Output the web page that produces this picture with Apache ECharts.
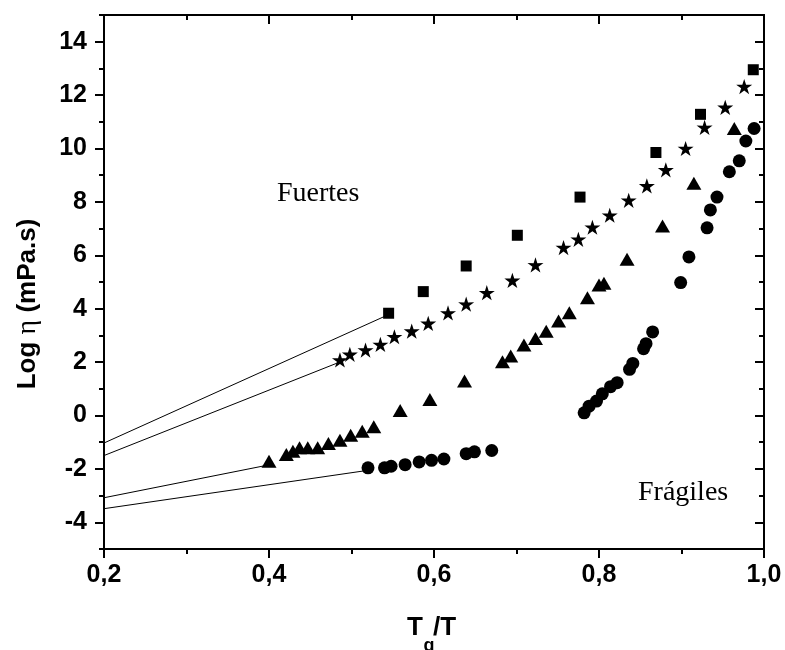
<!DOCTYPE html>
<html>
<head>
<meta charset="utf-8">
<script src="https://cdn.jsdelivr.net/npm/echarts@6/dist/echarts.min.js"></script>
<style>
  html, body { margin: 0; padding: 0; background: #fff; }
  #chart { width: 785px; height: 650px; }
</style>
</head>
<body>
<div id="chart"></div>
<script>
// Log viscosity versus Tg/T for four glass-forming liquids
const squareX = [0.545, 0.587, 0.639, 0.701, 0.777, 0.869, 0.923, 0.987];
const squareY = [3.83, 4.64, 5.60, 6.75, 8.18, 9.85, 11.28, 12.95];

const starX = [0.486, 0.498, 0.517, 0.535, 0.552, 0.573, 0.593, 0.617, 0.639, 0.664, 0.695, 0.723,
               0.757, 0.775, 0.792, 0.813, 0.836, 0.858, 0.881, 0.905, 0.928, 0.953, 0.976];
const starY = [2.08, 2.29, 2.45, 2.66, 2.95, 3.16, 3.45, 3.84, 4.17, 4.60, 5.06, 5.64,
               6.29, 6.60, 7.05, 7.50, 8.06, 8.60, 9.20, 10.0, 10.79, 11.54, 12.32];

const triX = [0.400, 0.421, 0.429, 0.437, 0.447, 0.459, 0.472, 0.486, 0.499, 0.513, 0.527, 0.559,
              0.595, 0.637, 0.683, 0.693, 0.709, 0.723, 0.736, 0.751, 0.764, 0.786, 0.800, 0.806,
              0.834, 0.877, 0.915, 0.964];
const triY = [-1.71, -1.46, -1.34, -1.21, -1.21, -1.21, -1.05, -0.93, -0.74, -0.59, -0.42, 0.19,
              0.60, 1.29, 2.01, 2.23, 2.64, 2.88, 3.16, 3.54, 3.85, 4.41, 4.89, 4.95,
              5.85, 7.10, 8.70, 10.75];

const circX = [0.520, 0.540, 0.548, 0.565, 0.582, 0.597, 0.612, 0.639, 0.649, 0.670,
               0.782, 0.788, 0.797, 0.804, 0.814, 0.822, 0.837, 0.841, 0.854, 0.857, 0.865,
               0.899, 0.909, 0.931, 0.935, 0.943, 0.958, 0.970, 0.978, 0.988];
const circY = [-1.96, -1.96, -1.90, -1.84, -1.74, -1.68, -1.63, -1.43, -1.36, -1.31,
               0.10, 0.35, 0.54, 0.81, 1.08, 1.23, 1.73, 1.95, 2.50, 2.69, 3.13,
               4.98, 5.94, 7.03, 7.70, 8.18, 9.13, 9.54, 10.28, 10.75];

// Extrapolation segments: [x0, y0, x1, y1]
const extrapLines = [
  [0.2, -1.03, 0.545, 3.78],
  [0.2, -1.50, 0.484, 1.98],
  [0.2, -3.08, 0.395, -1.88],
  [0.2, -3.49, 0.514, -2.08]
];

const xTicks = [0.2, 0.4, 0.6, 0.8, 1.0];
const yMajor = [-4, -2, 0, 2, 4, 6, 8, 10, 12, 14];
const yMinor = [-5, -3, -1, 1, 3, 5, 7, 9, 11, 13, 15];

const pairs = (xs, ys) => xs.map((x, i) => [x, ys[i]]);

const STAR = 'path://M100,0L122.3,69.3L195.1,69.1L136.1,111.7L158.8,180.9L100,138L41.2,180.9L63.9,111.7L4.9,69.1L77.7,69.3Z';
const SANS = '"Liberation Sans", Arial, sans-serif';
const SERIF = '"Liberation Serif", "Times New Roman", serif';

const lineStyle = { color: '#000', width: 2 };
const markStyle = { color: '#000', opacity: 1 };

function xAxisDef(pos) {
  const bottom = pos === 'bottom';
  return {
    type: 'value', position: pos, min: xTicks[0], max: xTicks[xTicks.length - 1], interval: 0.2,
    axisLine: { show: true, onZero: false, lineStyle },
    axisTick: { show: true, inside: !bottom, length: 9, lineStyle },
    minorTick: { show: true, splitNumber: 2, length: 5, lineStyle: { color: '#000', width: 2 } },
    splitLine: { show: false },
    axisLabel: {
      show: bottom, margin: 14, color: '#000', fontFamily: SANS, fontWeight: 'bold', fontSize: 25,
      formatter: v => v.toFixed(1).replace('.', ',')
    }
  };
}

function yAxisDef(pos, values, len, labels) {
  const left = pos === 'left';
  return {
    type: 'value', position: pos, min: -5, max: 15, interval: 1,
    axisLine: { show: true, onZero: false, lineStyle },
    axisTick: { show: true, inside: !left, length: len, customValues: values, lineStyle },
    splitLine: { show: false },
    axisLabel: {
      show: labels, customValues: values, margin: 17, color: '#000',
      fontFamily: SANS, fontWeight: 'bold', fontSize: 25
    }
  };
}

const chart = echarts.init(document.getElementById('chart'), null, { renderer: 'canvas' });

const series = [];
extrapLines.forEach(l => {
  series.push({
    type: 'line', xAxisIndex: 0, yAxisIndex: 0, data: [[l[0], l[1]], [l[2], l[3]]],
    showSymbol: false, symbol: 'none', lineStyle: { color: '#000', width: 1 }, silent: true, z: 1
  });
});
series.push(
  { type: 'scatter', data: pairs(squareX, squareY), symbol: 'rect', symbolSize: 11,
    itemStyle: markStyle, z: 3 },
  { type: 'scatter', data: pairs(starX, starY), symbol: STAR, symbolSize: 16, symbolKeepAspect: true,
    itemStyle: markStyle, z: 3 },
  { type: 'scatter', data: pairs(triX, triY), symbol: 'triangle', symbolSize: [15, 13],
    itemStyle: markStyle, z: 3 },
  { type: 'scatter', data: pairs(circX, circY), symbol: 'circle', symbolSize: 13,
    itemStyle: markStyle, z: 3 }
);

chart.setOption({
  animation: false,
  backgroundColor: '#fff',
  grid: { left: 104, top: 15, width: 660, height: 534, containLabel: false },
  xAxis: [xAxisDef('bottom'), xAxisDef('top')],
  yAxis: [
    yAxisDef('left', yMajor, 9, true),
    yAxisDef('left', yMinor, 5, false),
    yAxisDef('right', yMajor, 9, false),
    yAxisDef('right', yMinor, 5, false)
  ],
  series,
  graphic: [
    {
      type: 'text', x: 28, y: 304, rotation: Math.PI / 2,
      style: {
        text: '{a|Log }{b|η}{a| (mPa.s)}',
        align: 'center', verticalAlign: 'middle',
        rich: {
          a: { fontFamily: SANS, fontWeight: 'bold', fontSize: 26, fill: '#000' },
          b: { fontFamily: SERIF, fontWeight: 'normal', fontSize: 28, fill: '#000' }
        }
      }
    },
    { type: 'text', x: 423, y: 628,
      style: { text: 'T', align: 'right', verticalAlign: 'middle', fontFamily: SANS, fontWeight: 'bold', fontSize: 26, fill: '#000' } },
    { type: 'text', x: 429, y: 646,
      style: { text: 'g', align: 'center', verticalAlign: 'middle', fontFamily: SANS, fontWeight: 'bold', fontSize: 18, fill: '#000' } },
    { type: 'text', x: 433, y: 628,
      style: { text: '/T', align: 'left', verticalAlign: 'middle', fontFamily: SANS, fontWeight: 'bold', fontSize: 26, fill: '#000' } },
    { type: 'text', x: 277, y: 194,
      style: { text: 'Fuertes', align: 'left', verticalAlign: 'middle', fontFamily: SERIF, fontSize: 28, fill: '#000' } },
    { type: 'text', x: 638, y: 493,
      style: { text: 'Frágiles', align: 'left', verticalAlign: 'middle', fontFamily: SERIF, fontSize: 28, fill: '#000' } }
  ]
});
</script>
</body>
</html>
